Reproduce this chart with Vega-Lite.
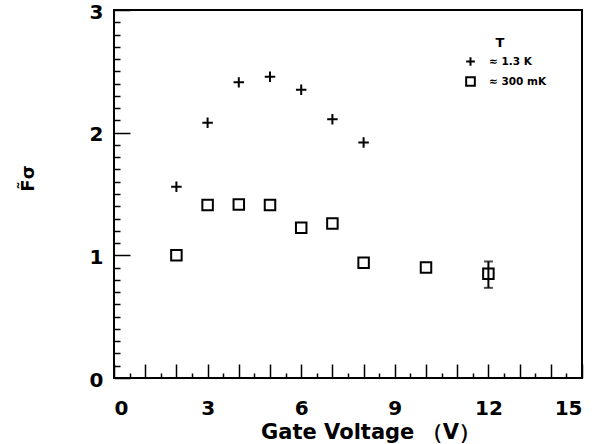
{
  "$schema": "https://vega.github.io/schema/vega-lite/v6.json",
  "width": 468,
  "height": 368,
  "autosize": {"type": "none"},
  "padding": {"left": 114, "top": 10, "right": 32, "bottom": 66},
  "background": "white",
  "config": {
    "view": {"stroke": "black", "strokeWidth": 2},
    "font": "DejaVu Sans",
    "axis": {"domain": false, "grid": false, "tickColor": "black", "tickWidth": 1.5, "labelColor": "black", "titleColor": "black", "labelFont": "DejaVu Sans", "titleFont": "DejaVu Sans", "labelFontWeight": "bold", "titleFontWeight": "bold"}
  },
  "data": {"values": [
    {"series": "1.3 K", "x": 2, "y": 1.56},
    {"series": "1.3 K", "x": 3, "y": 2.08},
    {"series": "1.3 K", "x": 4, "y": 2.41},
    {"series": "1.3 K", "x": 5, "y": 2.455},
    {"series": "1.3 K", "x": 6, "y": 2.35},
    {"series": "1.3 K", "x": 7, "y": 2.11},
    {"series": "1.3 K", "x": 8, "y": 1.92},
    {"series": "300 mK", "x": 2, "y": 1.0},
    {"series": "300 mK", "x": 3, "y": 1.41},
    {"series": "300 mK", "x": 4, "y": 1.415},
    {"series": "300 mK", "x": 5, "y": 1.41},
    {"series": "300 mK", "x": 6, "y": 1.225},
    {"series": "300 mK", "x": 7, "y": 1.26},
    {"series": "300 mK", "x": 8, "y": 0.94},
    {"series": "300 mK", "x": 10, "y": 0.9},
    {"series": "300 mK", "x": 12, "y": 0.85, "lo": 0.735, "hi": 0.95}
  ]},
  "resolve": {"axis": {"x": "independent", "y": "independent"}},
  "layer": [
    {
      "mark": {"type": "point", "filled": false, "stroke": "black", "strokeWidth": 2, "opacity": 1},
      "encoding": {
        "x": {"field": "x", "type": "quantitative", "scale": {"domain": [0, 15], "nice": false},
          "axis": {"orient": "bottom", "values": [0, 1, 2, 3, 4, 5, 6, 7, 8, 9, 10, 11, 12, 13, 14, 15], "tickSize": -14, "labelExpr": "datum.value % 3 == 0 ? datum.label : ''", "labelFontSize": 20, "labelPadding": 34, "title": "Gate Voltage （V）", "titleFontSize": 21, "titlePadding": 3, "titleX": 256}},
        "y": {"field": "y", "type": "quantitative", "scale": {"domain": [0, 3], "nice": false},
          "axis": {"orient": "left", "values": [0, 1, 2, 3], "tickSize": -16, "labelFontSize": 20, "labelPadding": 27, "labelOffset": 2, "title": "F̃σ", "titleFontSize": 18, "titleX": -86, "titleY": 168, "titleBaseline": "middle"}},
        "shape": {"field": "series", "type": "nominal",
          "scale": {"domain": ["1.3 K", "300 mK"], "range": ["M-1,0H1M0,-1V1", "square"]},
          "legend": {"orient": "none", "legendX": 351, "legendY": 27, "title": "\u2800\u2800\u2800T", "titleFontSize": 13, "titleFont": "DejaVu Sans", "titleFontWeight": "bold", "titleAnchor": "start", "titlePadding": 6, "labelExpr": "'≈ ' + datum.label", "labelFontSize": 10.5, "labelFontWeight": "bold", "labelFont": "DejaVu Sans", "symbolStrokeColor": "black", "symbolStrokeWidth": 2, "symbolFillColor": "transparent", "symbolSize": 75, "rowPadding": 3, "labelOffset": 13}},
        "size": {"value": 110}
      }
    },
    {
      "transform": [{"filter": "isValid(datum.lo)"}],
      "mark": {"type": "rule", "color": "black", "strokeWidth": 2},
      "encoding": {
        "x": {"field": "x", "type": "quantitative",
          "axis": {"orient": "bottom", "values": [0.5, 1.5, 2.5, 3.5, 4.5, 5.5, 6.5, 7.5, 8.5, 9.5, 10.5, 11.5, 12.5, 13.5, 14.5], "tickSize": -5, "labels": false, "title": null}},
        "y": {"field": "lo", "type": "quantitative",
          "axis": {"orient": "left", "values": [0.1, 0.2, 0.3, 0.4, 0.5, 0.6, 0.7, 0.8, 0.9, 1.1, 1.2, 1.3, 1.4, 1.5, 1.6, 1.7, 1.8, 1.9, 2.1, 2.2, 2.3, 2.4, 2.5, 2.6, 2.7, 2.8, 2.9], "tickSize": -6, "labels": false, "title": null}},
        "y2": {"field": "hi"}
      }
    },
    {
      "transform": [{"filter": "isValid(datum.lo)"}, {"fold": ["lo", "hi"], "as": ["end", "yv"]}],
      "mark": {"type": "tick", "orient": "horizontal", "color": "black", "size": 9, "thickness": 2},
      "encoding": {
        "x": {"field": "x", "type": "quantitative", "axis": null},
        "y": {"field": "yv", "type": "quantitative", "axis": null}
      }
    }
  ]
}
